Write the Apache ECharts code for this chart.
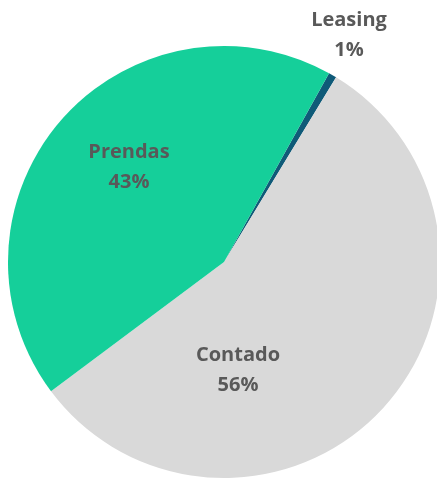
<!DOCTYPE html>
<html>
<head>
<meta charset="utf-8">
<script src="https://cdn.jsdelivr.net/npm/echarts@6/dist/echarts.min.js"></script>
<style>
  html, body { margin: 0; padding: 0; background: #fff; }
  #chart { width: 437px; height: 479px; }
</style>
</head>
<body>
<div id="chart"></div>
<script>
var names = ['Leasing', 'Contado', 'Prendas'];
var values = [0.6, 56.1, 43.3];
var colors = ['#0f5a78', '#d9d9d9', '#15cf9a'];
// label anchor points (px), per slice
var labelPos = [[349, 35], [238, 370], [129, 167]];

var chart = echarts.init(document.getElementById('chart'));

var data = names.map(function (n, i) {
    return { name: n, value: values[i], itemStyle: { color: colors[i] } };
});

chart.setOption({
    animation: false,
    series: [
        {
            type: 'pie',
            center: [224, 262],
            radius: [0, 216],
            startAngle: 60.9,
            clockwise: true,
            percentPrecision: 0,
            avoidLabelOverlap: false,
            data: data,
            itemStyle: { borderWidth: 0 },
            label: {
                show: true,
                position: 'inside',
                overflow: 'none',
                formatter: '{b}\n{d}%',
                color: '#595959',
                fontFamily: 'Open Sans',
                fontWeight: 'bold',
                fontSize: 20,
                lineHeight: 30,
                align: 'center'
            },
            labelLine: { show: false },
            labelLayout: function (params) {
                var p = labelPos[params.dataIndex];
                return { x: p[0], y: p[1], align: 'center', verticalAlign: 'middle', hideOverlap: false };
            },
            emphasis: { disabled: true }
        }
    ]
});
</script>
</body>
</html>
